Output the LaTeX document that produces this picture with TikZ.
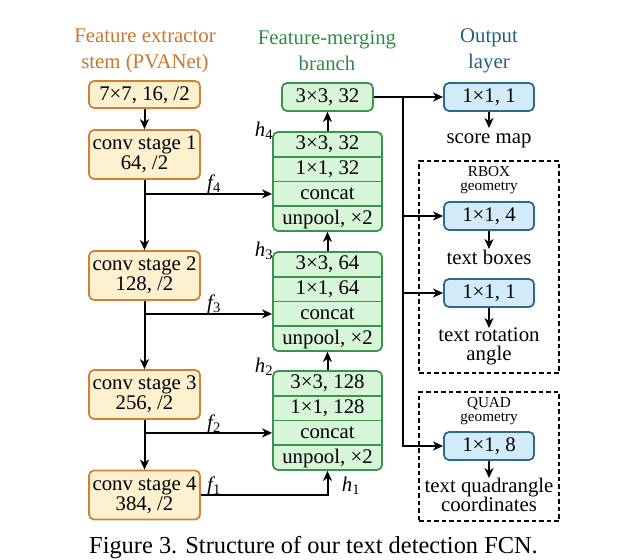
\documentclass[tikz,border=0pt]{standalone}
\usepackage{fontspec}
\setmainfont{Liberation Serif}
\usetikzlibrary{arrows.meta}
\definecolor{obd}{HTML}{CF8235}
\definecolor{ofl}{HTML}{FDF0CE}
\definecolor{ohd}{HTML}{C7772E}
\definecolor{gbd}{HTML}{3C944C}
\definecolor{gfl}{HTML}{D6F5D9}
\definecolor{ghd}{HTML}{2F8A43}
\definecolor{bbd}{HTML}{2E6A87}
\definecolor{bfl}{HTML}{D1ECF8}
\definecolor{bhd}{HTML}{22607F}
\newcommand\mainsz{\fontsize{20.8}{20}\selectfont}
\newcommand\hdrsz{\fontsize{20.8}{26}\selectfont}
\newcommand\outsz{\fontsize{20.8}{19}\selectfont}
\newcommand\smallsz{\fontsize{15.2}{14}\selectfont}
\newcommand\capsz{\fontsize{24.4}{28}\selectfont}
\begin{document}
\begin{tikzpicture}[x=1pt,y=-1pt,
  txt/.style={font=\mainsz, inner sep=0pt},
  one/.style={text height=15pt, text depth=4pt},
  obox/.style={txt, draw=obd, fill=ofl, line width=1.8pt, rounded corners=5pt, minimum width=111pt, align=center},
  gblock/.style={draw=gbd, fill=gfl, line width=1.8pt, rounded corners=5pt, minimum width=109pt, minimum height=99pt, inner sep=0pt},
  gbox/.style={txt, one, draw=gbd, fill=gfl, line width=1.8pt, rounded corners=5pt, minimum width=91pt, minimum height=28pt},
  growtxt/.style={txt, one},
  gsep/.style={draw=gbd, line width=1.6pt},
  bbox/.style={txt, one, draw=bbd, fill=bfl, line width=1.8pt, rounded corners=5pt, minimum width=90pt, minimum height=28pt},
  hdr/.style={font=\hdrsz, inner sep=0pt, align=center},
  outtxt/.style={font=\outsz, inner sep=0pt, align=center},
  geom/.style={font=\smallsz, inner sep=0pt, align=center},
  dbox/.style={draw, line width=1.1pt, dash pattern=on 4.5pt off 3pt, inner sep=0pt},
  lbl/.style={txt},
  arr/.style={line width=2pt, -{Stealth[length=10pt,width=9pt,inset=3pt]}}
]
\useasboundingbox (0,0) rectangle (622,560);

% headers
\node[hdr, text=ohd] (hA) at (145,50.5) {Feature extractor\\stem (PVANet)};
\node[hdr, text=ghd] (hB) at (327,50.5) {Feature-merging\\branch};
\node[hdr, text=bhd] (hC) at (489,50.5) {Output\\layer};

% feature extractor stem
\node[obox, one, minimum height=27pt] (stem) at (144.5,94.5) {7×7, 16, /2};
\node[obox, minimum height=49pt] (s1) at (144.5,154.5) {conv stage 1\\64, /2};
\node[obox, minimum height=49pt] (s2) at (144.5,275.5) {conv stage 2\\128, /2};
\node[obox, minimum height=49pt] (s3) at (144.5,394.5) {conv stage 3\\256, /2};
\node[obox, minimum height=49pt] (s4) at (144.5,495) {conv stage 4\\384, /2};

% feature-merging branch
\node[gbox] (top) at (327.5,97) {3×3, 32};

\node[gblock] (g4) at (327.5,181.5) {};
\node[growtxt] (g4a) at (327.5,144.4) {3×3, 32};
\node[growtxt] (g4b) at (327.5,169.1) {1×1, 32};
\node[growtxt] (g4c) at (327.5,193.9) {concat};
\node[growtxt] (g4d) at (327.5,218.6) {unpool, ×2};
\draw[gsep] (g4.west |- 0,156.75) -- (g4.east |- 0,156.75);
\draw[gsep] (g4.west |- 0,181.5) -- (g4.east |- 0,181.5);
\draw[gsep] (g4.west |- 0,206.25) -- (g4.east |- 0,206.25);

\node[gblock] (g3) at (327.5,301.5) {};
\node[growtxt] (g3a) at (327.5,264.4) {3×3, 64};
\node[growtxt] (g3b) at (327.5,289.1) {1×1, 64};
\node[growtxt] (g3c) at (327.5,313.9) {concat};
\node[growtxt] (g3d) at (327.5,338.6) {unpool, ×2};
\draw[gsep] (g3.west |- 0,276.75) -- (g3.east |- 0,276.75);
\draw[gsep] (g3.west |- 0,301.5) -- (g3.east |- 0,301.5);
\draw[gsep] (g3.west |- 0,326.25) -- (g3.east |- 0,326.25);

\node[gblock] (g2) at (327.5,420.5) {};
\node[growtxt] (g2a) at (327.5,383.4) {3×3, 128};
\node[growtxt] (g2b) at (327.5,408.1) {1×1, 128};
\node[growtxt] (g2c) at (327.5,432.9) {concat};
\node[growtxt] (g2d) at (327.5,457.6) {unpool, ×2};
\draw[gsep] (g2.west |- 0,395.75) -- (g2.east |- 0,395.75);
\draw[gsep] (g2.west |- 0,420.5) -- (g2.east |- 0,420.5);
\draw[gsep] (g2.west |- 0,445.25) -- (g2.east |- 0,445.25);

% labels f and h
\node[lbl] (f4) at (214,184) {{\itshape f}\textsubscript{4}};
\node[lbl] (f3) at (214,304) {{\itshape f}\textsubscript{3}};
\node[lbl] (f2) at (214,424) {{\itshape f}\textsubscript{2}};
\node[lbl] (f1) at (214,486) {{\itshape f}\textsubscript{1}};
\node[lbl] (lh4) at (264,131) {{\itshape h}\textsubscript{4}};
\node[lbl] (lh3) at (264,251) {{\itshape h}\textsubscript{3}};
\node[lbl] (lh2) at (264,367) {{\itshape h}\textsubscript{2}};
\node[lbl] (lh1) at (351,486) {{\itshape h}\textsubscript{1}};

% stem connectors
\draw[arr] (stem.south) -- (s1.north);
\draw[arr] (s1.south) -- (s2.north);
\draw[arr] (s2.south) -- (s3.north);
\draw[arr] (s3.south) -- (s4.north);
\draw[arr] (s1.south |- g4c) -- (g4.west |- g4c);
\draw[arr] (s2.south |- g3c) -- (g3.west |- g3c);
\draw[arr] (s3.south |- g2c) -- (g2.west |- g2c);
\draw[arr] (s4.east) -| (g2.south);

% merging connectors
\draw[arr] (g2.north) -- (g3.south);
\draw[arr] (g3.north) -- (g4.south);
\draw[arr] (g4.north) -- (top.south);

% output layer
\node[dbox, minimum width=140pt, minimum height=212pt] (rbox) at (489,267) {};
\node[dbox, minimum width=140pt, minimum height=129pt] (qbox) at (489,456.5) {};

\node[bbox] (b1) at (489,97) {1×1, 1};
\node[bbox] (b2) at (489,216) {1×1, 4};
\node[bbox] (b3) at (489,293) {1×1, 1};
\node[bbox] (b4) at (489,446) {1×1, 8};

\node[outtxt, one, anchor=north] (o1) at (489,128) {score map};
\node[geom] (rg) at (489,180.5) {RBOX\\geometry};
\node[outtxt, one, anchor=north] (o2) at (489,249) {text boxes};
\node[outtxt, anchor=north] (o3) at (489,328) {text rotation\\angle};
\node[geom] (qg) at (489,411) {QUAD\\geometry};
\node[outtxt, anchor=north] (o4) at (489,478) {text quadrangle\\coordinates};

\coordinate (sp) at (403,97);
\draw[arr] (top.east) -- (b1.west);
\draw[arr] (sp) |- (b4.west);
\draw[arr] (sp |- b2) -- (b2.west);
\draw[arr] (sp |- b3) -- (b3.west);

\draw[arr] (b1.south) -- (o1.north);
\draw[arr] (b2.south) -- (o2.north);
\draw[arr] (b3.south) -- (o3.north);
\draw[arr] (b4.south) -- (o4.north);

% caption
\node[font=\capsz, inner sep=0pt, anchor=base] (cap) at (313.5,553) {Figure 3. Structure of our text detection FCN.};
\end{tikzpicture}
\end{document}
